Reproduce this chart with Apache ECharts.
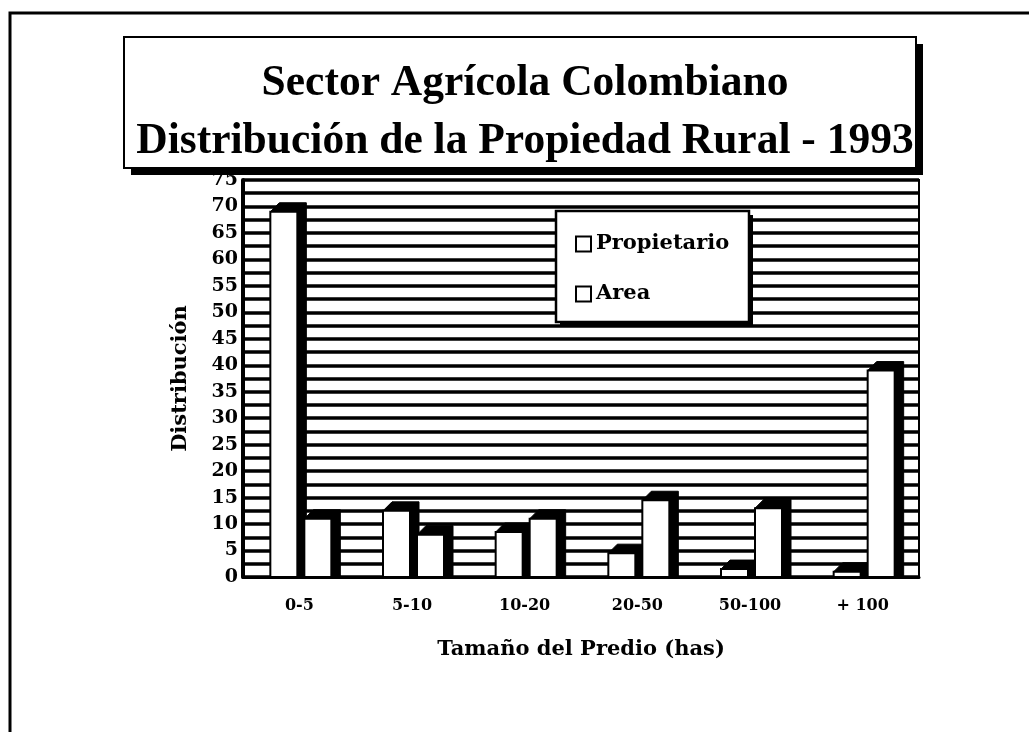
<!DOCTYPE html>
<html>
<head>
<meta charset="utf-8">
<script src="https://cdn.jsdelivr.net/npm/echarts@6/dist/echarts.min.js"></script>
<style>
  html, body { margin: 0; padding: 0; background: #fff; }
  #chart { width: 1029px; height: 732px; }
</style>
</head>
<body>
<div id="chart"></div>
<script>
// data
const sizes = ["0-5", "5-10", "10-20", "20-50", "50-100", "+ 100"];
const propietario = [69, 12.5, 8.5, 4.5, 1.5, 1];
const area = [11, 8, 11, 14.5, 13, 39];
const titleLines = ["Sector Agrícola Colombiano", "Distribución de la Propiedad Rural - 1993"];

const titleFont = "Liberation Serif";
const labelFont = "DejaVu Serif";

// old-style 3d bar: white front, black top + side
function bar3d(offset) {
  return function (params, api) {
    const top = api.coord([api.value(0), api.value(1)]);
    const base = api.coord([api.value(0), 0]);
    const w = 27;
    const d = 9;
    const x0 = top[0] + offset;
    const yT = top[1];
    const yB = base[1];
    return {
      type: "group",
      children: [
        {
          type: "polygon",
          shape: {
            points: [
              [x0, yT],
              [x0 + d, yT - d],
              [x0 + w + d, yT - d],
              [x0 + w + d, yB],
              [x0 + w, yB],
              [x0 + w, yT],
            ],
          },
          style: { fill: "#000", stroke: "#000", lineWidth: 1 },
        },
        {
          type: "rect",
          shape: { x: x0, y: yT, width: w, height: yB - yT },
          style: { fill: "#fff", stroke: "#000", lineWidth: 2 },
        },
      ],
    };
  };
}

const chart = echarts.init(document.getElementById("chart"), null, { renderer: "canvas" });

const option = {
  animation: false,
  backgroundColor: "#fff",
  title: {
    text: titleLines.join("\n"),
    left: 520,
    top: 50,
    textAlign: "center",
    textStyle: {
      fontFamily: titleFont,
      fontWeight: "bold",
      fontSize: 43.5,
      lineHeight: 58,
      color: "#000",
    },
    z: 110,
  },
  legend: {
    orient: "vertical",
    left: 571,
    top: 228,
    padding: 4,
    itemGap: 26,
    itemWidth: 15,
    itemHeight: 15,
    itemTextGap: 4,
    icon: "rect",
    textStyle: { fontFamily: labelFont, fontWeight: "bold", fontSize: 21, lineHeight: 24, color: "#000" },
    itemStyle: { color: "#fff", borderColor: "#000", borderWidth: 2 },
    data: ["Propietario", "Area"],
    z: 120,
  },
  grid: {
    left: 243,
    right: 110,
    top: 180,
    bottom: 155,
    show: true,
    borderColor: "#000",
    borderWidth: 2,
  },
  xAxis: {
    type: "category",
    data: sizes,
    name: "Tamaño del Predio (has)",
    nameLocation: "middle",
    nameGap: 62,
    nameTextStyle: { fontFamily: labelFont, fontWeight: "bold", fontSize: 21, color: "#000" },
    axisLine: { lineStyle: { color: "#000", width: 3 } },
    axisTick: { show: false },
    axisLabel: { fontFamily: labelFont, fontWeight: "bold", fontSize: 16, color: "#000", margin: 21 },
  },
  yAxis: {
    type: "value",
    min: 0,
    max: 75,
    interval: 5,
    name: "Distribución",
    nameLocation: "middle",
    nameRotate: 90,
    nameGap: 52,
    nameTextStyle: { fontFamily: labelFont, fontWeight: "bold", fontSize: 21, color: "#000" },
    axisLine: { show: true, lineStyle: { color: "#000", width: 4 } },
    axisTick: { show: true, inside: true, length: 6, lineStyle: { color: "#000", width: 2 } },
    axisLabel: { fontFamily: labelFont, fontWeight: "bold", fontSize: 19, color: "#000", margin: 5 },
    splitLine: { show: true, lineStyle: { color: "#000", width: 3.5 } },
    minorTick: { show: true, splitNumber: 2, length: 6, lineStyle: { color: "#000", width: 2 } },
    minorSplitLine: { show: true, lineStyle: { color: "#000", width: 3.5 } },
  },
  series: [
    {
      name: "Propietario",
      type: "custom",
      data: propietario.map((v, i) => [i, v]),
      encode: { x: 0, y: 1 },
      itemStyle: { color: "#fff", borderColor: "#000", borderWidth: 2 },
      renderItem: bar3d(-29),
    },
    {
      name: "Area",
      type: "custom",
      data: area.map((v, i) => [i, v]),
      encode: { x: 0, y: 1 },
      itemStyle: { color: "#fff", borderColor: "#000", borderWidth: 2 },
      renderItem: bar3d(5),
    },
  ],
  graphic: [
    // slide frame
    {
      type: "rect",
      z: 100,
      shape: { x: 10, y: 13, width: 1040, height: 760 },
      style: { fill: null, stroke: "#000", lineWidth: 3 },
    },
    // title box with drop shadow
    {
      type: "rect",
      z: 100,
      shape: { x: 131, y: 44, width: 792, height: 131 },
      style: { fill: "#000" },
    },
    {
      type: "rect",
      z: 101,
      shape: { x: 124, y: 37, width: 792, height: 131 },
      style: { fill: "#fff", stroke: "#000", lineWidth: 2 },
    },
    // legend box with drop shadow
    {
      type: "rect",
      z: 100,
      shape: { x: 560, y: 215, width: 193, height: 111 },
      style: { fill: "#000" },
    },
    {
      type: "rect",
      z: 101,
      shape: { x: 556, y: 211, width: 193, height: 111 },
      style: { fill: "#fff", stroke: "#000", lineWidth: 2.5 },
    },
  ],
};

chart.setOption(option);
</script>
</body>
</html>
